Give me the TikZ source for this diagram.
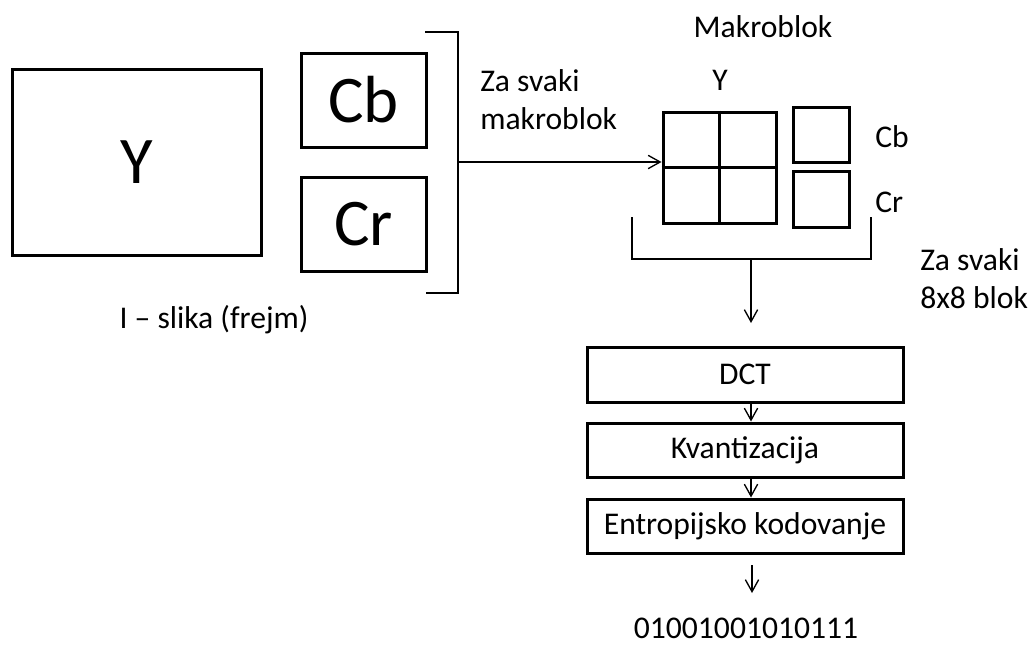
\documentclass[tikz,border=0pt]{standalone}
\usepackage{fontspec}
\setmainfont{Carlito}
\usetikzlibrary{arrows.meta}
\newcommand*{\txtSize}{\fontsize{23.7}{28}\selectfont}
\newcommand*{\bigSize}{\fontsize{50}{60}\selectfont}
\newcommand*{\stemX}{751}

\begin{document}
\begin{tikzpicture}[x=0.75pt, y=-0.75pt,
    blk/.style 2 args={draw, line width=2.25pt, inner sep=0pt, minimum width=#1*0.75pt, minimum height=#2*0.75pt},
    lbl/.style={inner sep=0pt, font=\txtSize},
    thinline/.style={line width=1pt},
    arr/.style={line width=1pt, -{Straight Barb[length=9pt, width=10pt]}}]
\useasboundingbox (0,0) rectangle (1033,646);
% frejm
\node[blk={249}{186}, font=\bigSize] (bigY) at (136.5,162) {Y};
\node[blk={125}{94}, font=\bigSize] (cb) at (363.5,100) {Cb};
\node[blk={125}{94}, font=\bigSize] (cr) at (363.5,224) {Cr};
\node[lbl, anchor=base] (frame) at (214,328) {I – slika (frejm)};
\coordinate (brk) at (458,162);
\draw[thinline] (425,32) -| (brk) |- (426,293);
\node[lbl, anchor=base west, align=left] (perMb) at (480,129) {Za svaki\\makroblok};
% makroblok
\node[blk={113}{111}] (mbY) at (719.5,167.5) {};
\draw[line width=2pt] (mbY.north) -- (mbY.south) (mbY.west) -- (mbY.east);
\node[blk={56}{55}] (mbCb) at (821,134.5) {};
\node[blk={56}{56}] (mbCr) at (821,199) {};
\node[lbl, anchor=base] (mbTitle) at (763,37) {Makroblok};
\node[lbl, anchor=base] (mbYlbl) at (720,90) {Y};
\node[lbl, anchor=base west] (mbCblbl) at (875,147) {Cb};
\node[lbl, anchor=base west] (mbCrlbl) at (875,212) {Cr};
\draw[arr] (brk) -- (brk -| mbY.west);
\coordinate (brk2) at (\stemX,259);
\coordinate (stemEnd) at (\stemX,323);
\draw[thinline] (632,217) |- (brk2) -| (871,217);
\draw[arr] (brk2) -- (stemEnd);
\node[lbl, anchor=base west, align=left] (perBlk) at (920,308) {Za svaki\\8x8 blok};
% obrada
\node[blk={316}{55}, font=\txtSize] (dct) at (745,374.5) {DCT};
\node[blk={316}{54}, font=\txtSize] (kv) at (745,450) {Kvantizacija};
\node[blk={316}{54}, font=\txtSize] (ent) at (745,526) {Entropijsko kodovanje};
\draw[arr] (dct.south -| brk2) -- (kv.north -| brk2);
\draw[arr] (kv.south -| brk2) -- (ent.north -| brk2);
\coordinate (outTop) at (752,565);
\coordinate (outEnd) at (752,593);
\draw[arr] (outTop) -- (outEnd);
\node[lbl, anchor=base] (bits) at (746,638) {01001001010111};
\end{tikzpicture}
\end{document}
